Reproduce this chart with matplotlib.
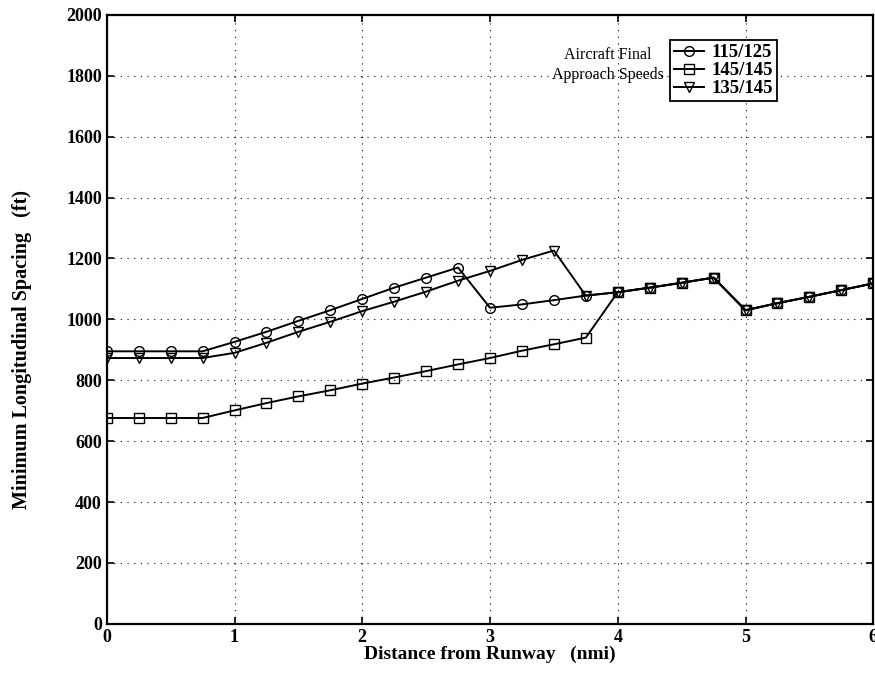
import numpy as np
import matplotlib
matplotlib.use('Agg')
from matplotlib import pyplot as plt

plt.rcParams['font.family'] = ['Liberation Serif', 'DejaVu Serif']

dist = [0, 0.25, 0.5, 0.75, 1, 1.25, 1.5, 1.75, 2, 2.25, 2.5, 2.75, 3,
        3.25, 3.5, 3.75, 4, 4.25, 4.5, 4.75, 5, 5.25, 5.5, 5.75, 6]

# 115/125
spd_115_125 = [895, 895, 895, 895, 926, 959, 995, 1030, 1067, 1104, 1137, 1170, 1038,
               1049, 1063, 1078, 1089, 1104, 1120, 1137, 1030, 1053, 1074, 1096, 1118]
# 145/145
spd_145_145 = [676, 676, 676, 676, 701, 725, 747, 767, 789, 809, 830, 852, 873,
               897, 918, 940, 1089, 1104, 1120, 1137, 1030, 1053, 1074, 1096, 1118]
# 135/145
spd_135_145 = [873, 873, 873, 873, 890, 923, 959, 992, 1027, 1058, 1091, 1127, 1159,
               1195, 1226, 1078, 1089, 1104, 1120, 1137, 1030, 1053, 1074, 1096, 1118]

labels = ['115/125', '145/145', '135/145']

fig = plt.figure(figsize=(8.75, 6.73), dpi=100)
ax = fig.add_axes([0.122, 0.073, 0.876, 0.905])

mk = dict(color='black', lw=1.4, markerfacecolor='none', markeredgecolor='black',
          markersize=7, markeredgewidth=1.0)
ax.plot(dist, spd_115_125, marker='o', label=labels[0], **mk)
ax.plot(dist, spd_145_145, marker='s', label=labels[1], **mk)
ax.plot(dist, spd_135_145, marker='v', label=labels[2], **mk)

ax.set_xlim(0, 6)
ax.set_ylim(0, 2000)
ax.set_xticks(range(0, 7))
ax.set_yticks(range(0, 2001, 200))
ax.grid(True, color='black', linestyle=(0, (1, 5)), linewidth=0.8)
ax.tick_params(direction='in', top=True, right=True, length=5, width=1.2,
               labelsize=13)
for lab in ax.get_xticklabels() + ax.get_yticklabels():
    lab.set_fontweight('bold')
for s in ax.spines.values():
    s.set_linewidth(1.6)

ax.set_xlabel('Distance from Runway   (nmi)', fontsize=14, fontweight='bold', labelpad=0)
ax.set_ylabel('Minimum Longitudinal Spacing   (ft)', fontsize=14.5, fontweight='bold')
ax.yaxis.set_label_coords(-0.098, 0.45)

leg = ax.legend(loc='upper left', bbox_to_anchor=(0.735, 0.958),
                prop={'weight': 'bold', 'size': 13.5},
                frameon=True, fancybox=False, edgecolor='black', framealpha=1,
                labelspacing=0.05, handlelength=1.6, borderpad=0.2,
                handletextpad=0.4, borderaxespad=0)
leg.get_frame().set_linewidth(1.3)

ax.text(0.727, 0.918, 'Aircraft Final\nApproach Speeds', transform=ax.transAxes,
        ha='right', va='center', multialignment='center', fontsize=11.5,
        linespacing=1.3)

fig.savefig('out.png', dpi=100)
